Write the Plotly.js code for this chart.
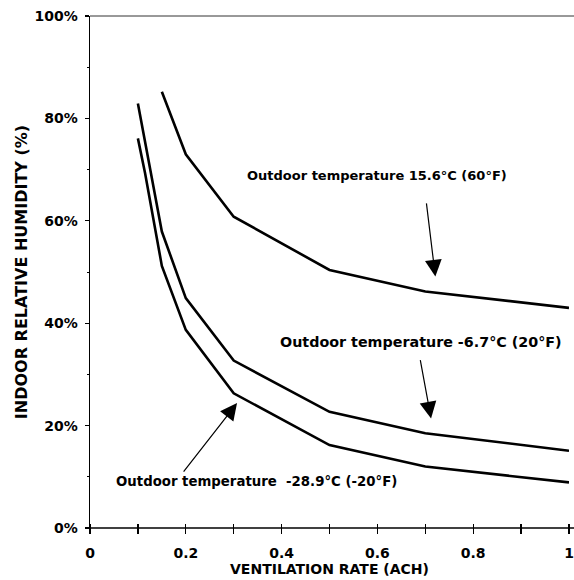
<!DOCTYPE html>
<html>
<head>
<meta charset="utf-8">
<script src="https://cdn.plot.ly/plotly-3.0.1.min.js"></script>
<style>html,body{margin:0;padding:0;background:#fff;}#chart{width:574px;height:580px;}</style>
</head>
<body>
<div id="chart"></div>
<script>
// Ventilation rate (ACH) and indoor relative humidity (%) for three outdoor temperatures
var xWarm = [0.15, 0.2, 0.3, 0.5, 0.7, 1.0];
var yWarm = [85.2, 73.0, 60.8, 50.4, 46.2, 43.0];

var xMild = [0.1, 0.15, 0.2, 0.3, 0.5, 0.7, 1.0];
var yMild = [82.9, 57.9, 44.9, 32.7, 22.7, 18.5, 15.1];

var xCold = [0.1, 0.115, 0.15, 0.2, 0.3, 0.5, 0.7, 1.0];
var yCold = [76.1, 69.3, 51.2, 38.7, 26.3, 16.2, 12.0, 8.9];

var seriesNames = [
  "Outdoor temperature 15.6°C (60°F)",
  "Outdoor temperature -6.7°C (20°F)",
  "Outdoor temperature \u00a0-28.9°C (-20°F)"
];

var xTickVals = [0, 0.2, 0.4, 0.6, 0.8, 1];
var xTickText = ["0", "0.2", "0.4", "0.6", "0.8", "1"];
var yTickVals = [0, 20, 40, 60, 80, 100];
var yTickText = ["0%", "20%", "40%", "60%", "80%", "100%"];

var FONT = "DejaVu Sans, sans-serif";
var lineStyle = {color: "#000", width: 2.6};

var traces = [
  {x: xWarm, y: yWarm, name: seriesNames[0], mode: "lines", line: lineStyle},
  {x: xMild, y: yMild, name: seriesNames[1], mode: "lines", line: lineStyle},
  {x: xCold, y: yCold, name: seriesNames[2], mode: "lines", line: lineStyle}
];

function label(text, x, y, size) {
  return {text: text, x: x, y: y, xref: "x", yref: "y", showarrow: false,
          font: {family: FONT, size: size, color: "#000", weight: "bold"}};
}
function arrow(x, y, ax, ay) {
  return {text: "", x: x, y: y, ax: ax, ay: ay, xref: "x", yref: "y", axref: "x", ayref: "y",
          showarrow: true, arrowhead: 2, arrowsize: 2.8, arrowwidth: 1.2, arrowcolor: "#000", standoff: 0};
}

// plot area is 512 px tall; x axis ticks straddle the baseline (5 px above, 5 px below)
var tickShift = 5 / 512;
// frame lines run on to the right edge of the picture
var frameEnd = 1 + 5 / 479;

var layout = {
  width: 574, height: 580,
  margin: {l: 90, r: 5, t: 16, b: 52},
  paper_bgcolor: "#fff", plot_bgcolor: "#fff",
  showlegend: false,
  font: {family: FONT, color: "#000"},
  xaxis: {
    range: [0, 1], showgrid: false, zeroline: false,
    anchor: "free", position: tickShift,
    showline: false,
    ticks: "outside", ticklen: 10, tickwidth: 1.3, tickcolor: "#000",
    tickvals: xTickVals, ticktext: xTickText,
    minor: {dtick: 0.1, tick0: 0, ticks: "outside", ticklen: 10, tickwidth: 1.3, tickcolor: "#000", showgrid: false},
    ticklabelstandoff: 7,
    tickfont: {family: FONT, size: 14, color: "#000", weight: "bold"},
    title: {text: "VENTILATION RATE (ACH)", standoff: 2,
            font: {family: FONT, size: 14, color: "#000", weight: "bold"}}
  },
  yaxis: {
    range: [0, 100], showgrid: false, zeroline: false,
    showline: true, linecolor: "#000", linewidth: 1.5,
    ticks: "outside", ticklen: 4, tickwidth: 1.3, tickcolor: "#000",
    tickvals: yTickVals, ticktext: yTickText,
    minor: {dtick: 10, tick0: 0, ticks: "outside", ticklen: 2, tickwidth: 1, tickcolor: "#000", showgrid: false},
    ticklabelstandoff: 4,
    tickfont: {family: FONT, size: 14, color: "#000", weight: "bold"},
    title: {text: "INDOOR RELATIVE HUMIDITY (%)", standoff: 3,
            font: {family: FONT, size: 16, color: "#000", weight: "bold"}}
  },
  shapes: [
    {type: "line", xref: "paper", yref: "paper", x0: 0, x1: frameEnd, y0: 1, y1: 1,
     line: {color: "#333", width: 1}},
    {type: "line", xref: "paper", yref: "paper", x0: 0, x1: frameEnd, y0: 0, y1: 0,
     line: {color: "#000", width: 1.5}}
  ],
  annotations: [
    label(seriesNames[0], 0.60, 68.9, 13),
    label(seriesNames[1], 0.69, 36.4, 14.3),
    label(seriesNames[2], 0.347, 9.0, 13.3),
    arrow(0.721, 49.1, 0.702, 63.7),
    arrow(0.712, 21.4, 0.689, 33.1),
    arrow(0.307, 24.4, 0.193, 10.7)
  ]
};

Plotly.newPlot("chart", traces, layout, {staticPlot: true, displayModeBar: false});
</script>
</body>
</html>
